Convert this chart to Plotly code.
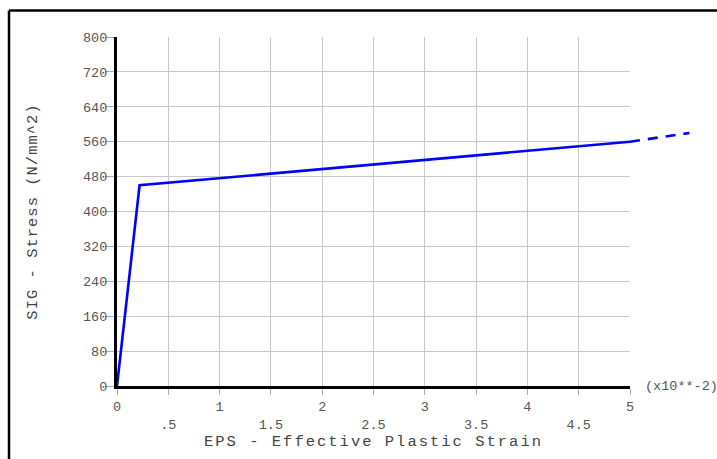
import plotly.graph_objects as go

# Stress vs. effective plastic strain (strain in units of 1e-2)
eps = [0.0, 0.22, 5.0]
sig = [0.0, 460.0, 560.0]

# extrapolated continuation beyond the last tabulated point
eps_ext = [5.0, 5.58]
sig_ext = [560.0, 580.0]

x_ticks = [0, 0.5, 1, 1.5, 2, 2.5, 3, 3.5, 4, 4.5, 5]
x_labels = ["0", ".5", "1", "1.5", "2", "2.5", "3", "3.5", "4", "4.5", "5"]
y_ticks = [0, 80, 160, 240, 320, 400, 480, 560, 640, 720, 800]

W, H = 717, 459
L, R, T, B = 117, 0, 37, 73
plot_w = W - L - R
plot_h = H - T - B
x_span_px = 513  # width of the 0..5 strain axis
x_frac = x_span_px / plot_w
x2_max = 5.0 * plot_w / x_span_px

MONO = "Liberation Mono, Courier New, monospace"
TICK_FONT = dict(family=MONO, size=13.5, color="#555555")
TITLE_FONT = dict(family=MONO, size=15.5, color="#444444")
GRID = "#c8c8c8"

# half-step labels sit on a second row
x_text = [t if float(v).is_integer() else "<br>" + t for v, t in zip(x_ticks, x_labels)]

fig = go.Figure()
fig.add_trace(go.Scatter(
    x=eps, y=sig, mode="lines", xaxis="x", yaxis="y",
    line=dict(color="#0000ff", width=2.6), hoverinfo="skip", showlegend=False,
))
fig.add_trace(go.Scatter(
    x=eps_ext, y=sig_ext, mode="lines", xaxis="x2", yaxis="y2",
    line=dict(color="#0000ff", width=2.6, dash="10px,8px"),
    hoverinfo="skip", showlegend=False,
))

fig.update_layout(
    width=W, height=H,
    margin=dict(l=L, r=R, t=T, b=B, pad=0, autoexpand=False),
    paper_bgcolor="white", plot_bgcolor="rgba(0,0,0,0)",
    xaxis=dict(
        domain=[0, x_frac], range=[0, 5], anchor="y",
        tickmode="array", tickvals=x_ticks, ticktext=x_text,
        ticks="outside", ticklen=6, tickwidth=1, tickcolor="#aaaaaa",
        tickfont=TICK_FONT, ticklabelstandoff=0,
        showline=True, linecolor="black", linewidth=3,
        showgrid=True, gridcolor=GRID, gridwidth=1, zeroline=False,
        title=dict(text="EPS - Effective Plastic Strain", font=TITLE_FONT, standoff=0),
    ),
    yaxis=dict(
        domain=[0, 1], range=[0, 800], anchor="x",
        tickmode="array", tickvals=y_ticks,
        ticks="outside", ticklen=9, tickwidth=1, tickcolor="#aaaaaa",
        tickfont=TICK_FONT, ticklabelstandoff=-5,
        showline=True, linecolor="black", linewidth=3,
        showgrid=True, gridcolor=GRID, gridwidth=1, zeroline=False,
        title=dict(text="SIG - Stress (N/mm^2)", font=TITLE_FONT, standoff=42),
    ),
    xaxis2=dict(domain=[0, 1], range=[0, x2_max], anchor="y2", visible=False),
    yaxis2=dict(domain=[0, 1], range=[0, 800], anchor="x2", visible=False),
    annotations=[dict(
        text="(x10**-2)", xref="paper", yref="paper",
        x=(643 - L) / plot_w, y=0.0, xanchor="left", yanchor="middle",
        showarrow=False, font=TICK_FONT,
    )],
    shapes=[
        # outer frame
        dict(type="line", xref="paper", yref="paper",
             x0=(9 - L) / plot_w, x1=1.05,
             y0=(H - B - 10.5) / plot_h, y1=(H - B - 10.5) / plot_h,
             line=dict(color="black", width=2.5)),
        dict(type="line", xref="paper", yref="paper",
             x0=(9 - L) / plot_w, x1=(9 - L) / plot_w,
             y0=(H - B - 10.5) / plot_h, y1=-0.3,
             line=dict(color="black", width=2.5)),
    ],
)

post = ("var s=document.createElement('style');"
        "s.textContent='.xtitle{letter-spacing:2.0px}.ytitle{letter-spacing:1px}';"
        "document.head.appendChild(s);")
fig.write_html("out.html", post_script=post)
